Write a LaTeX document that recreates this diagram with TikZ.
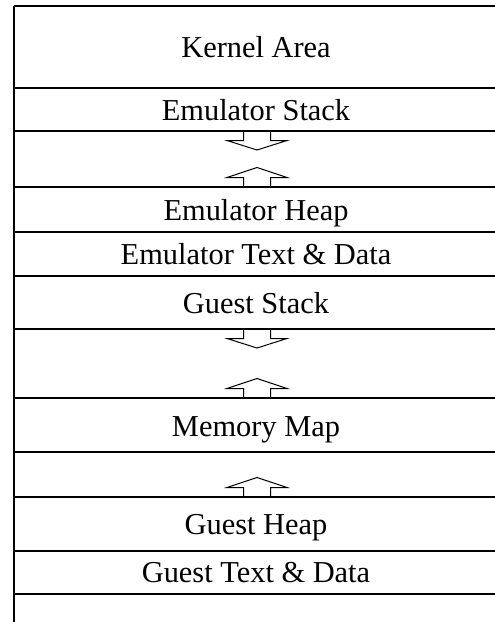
\documentclass[tikz,border=0pt]{standalone}
\usepackage{fontspec}
\setmainfont{Liberation Serif}
\begin{document}
\begin{tikzpicture}[x=1pt,y=-1pt,
  rule/.style={line width=1.3pt},
  label/.style={anchor=base,inner sep=0pt,font=\fontsize{30.4}{36}\selectfont},
  blockarrow/.style={line width=1pt,line join=miter},
  growup/.pic={\draw[blockarrow] (-13.5,0) -- (-13.5,-9.5) -- (-30,-9.5) -- (0,-19.5) -- (30,-9.5) -- (13.5,-9.5) -- (13.5,0);},
  growdown/.pic={\draw[blockarrow] (-13.5,0) -- (-13.5,9.5) -- (-30,9.5) -- (0,19) -- (30,9.5) -- (13.5,9.5) -- (13.5,0);}
]
\useasboundingbox (0,0) rectangle (495,622);
% left edge of the address space
\draw[rule] (14,6) -- (14,622);
% region boundaries, top to bottom
\foreach \y in {6,88,131,187,232,276,329,398,452,497,551,594}
  \draw[rule] (14,\y) -- (495,\y);
% region labels
\node[label] (kernel)  at (256,57.3)  {Kernel Area};
\node[label] (estack)  at (256,120.7) {Emulator Stack};
\node[label] (eheap)   at (256,220)   {Emulator Heap};
\node[label] (etext)   at (256,264.3) {Emulator Text \& Data};
\node[label] (gstack)  at (256,313.3) {Guest Stack};
\node[label] (mmap)    at (256,436)   {Memory Map};
\node[label] (gheap)   at (256,534)   {Guest Heap};
\node[label] (gtext)   at (256,582.7) {Guest Text \& Data};
% growth directions
\pic at (257,131) {growdown};
\pic at (257,187) {growup};
\pic at (257,329) {growdown};
\pic at (257,398) {growup};
\pic at (257,497) {growup};
\end{tikzpicture}
\end{document}
